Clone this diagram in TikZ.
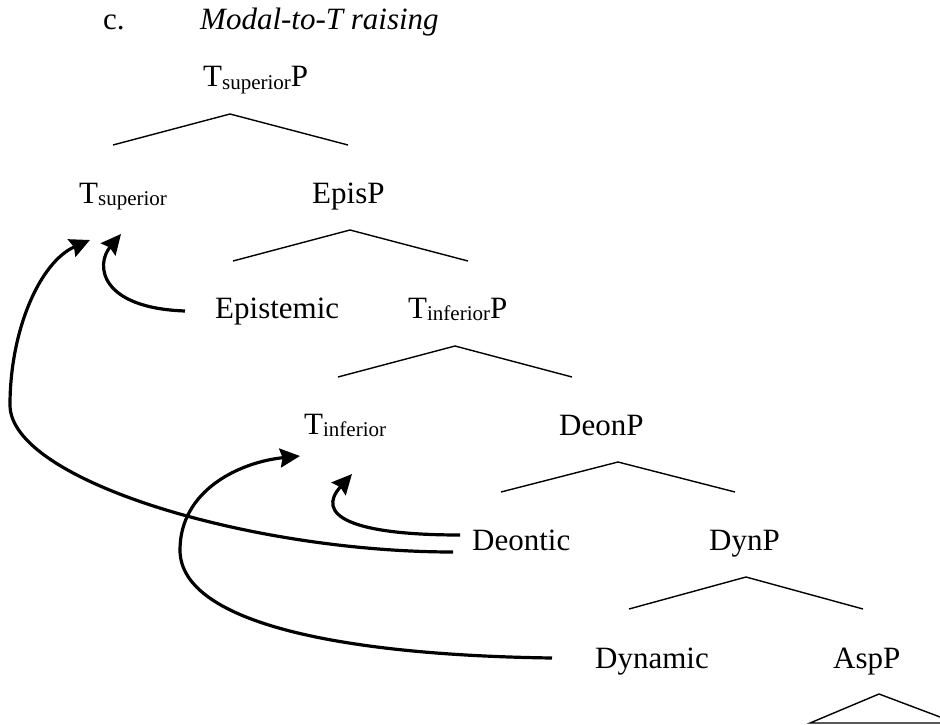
\documentclass[tikz,border=0pt]{standalone}
\usepackage{fontspec}
\setmainfont{Liberation Serif}
\usetikzlibrary{arrows.meta}
% lowered, smaller index text after a category label
\newcommand{\lowidx}[1]{\raisebox{-2pt}{\fontsize{21}{21}\selectfont #1}}
\begin{document}
\begin{tikzpicture}[x=1pt,y=-1pt,
  lbl/.style={anchor=base west, inner sep=0pt, font=\fontsize{31}{36}\selectfont},
  branch/.style={line width=1.4pt},
  move/.style={line width=3.2pt, -{Stealth[length=20pt,width=19pt,inset=2.5pt]}}]
\useasboundingbox (0,0) rectangle (940,725);

% heading
\node[lbl] (num) at (103,30) {c.};
\node[lbl, font=\fontsize{31}{36}\selectfont\itshape] (title) at (200,30) {Modal-to-T raising};

% labels of the tree
\node[lbl] (tsupP) at (203,87)  {T\lowidx{superior}P};
\node[lbl] (tsup)  at (79,203)  {T\lowidx{superior}};
\node[lbl] (episP) at (312,203) {EpisP};
\node[lbl] (epi)   at (215,318) {Epistemic};
\node[lbl] (tinfP) at (408,318) {T\lowidx{inferior}P};
\node[lbl] (tinf)  at (304,434) {T\lowidx{inferior}};
\node[lbl] (deonP) at (559,435) {DeonP};
\node[lbl] (deon)  at (472,550) {Deontic};
\node[lbl] (dynP)  at (709,550) {DynP};
\node[lbl] (dyn)   at (595,668) {Dynamic};
\node[lbl] (aspP)  at (833,668) {AspP};

% branches: apex, left foot, right foot
\coordinate (b1a) at (230,114); \coordinate (b1l) at (113,145); \coordinate (b1r) at (348,145);
\coordinate (b2a) at (350,230); \coordinate (b2l) at (233,261); \coordinate (b2r) at (468,261);
\coordinate (b3a) at (455,346); \coordinate (b3l) at (338,377); \coordinate (b3r) at (572,377);
\coordinate (b4a) at (618,462); \coordinate (b4l) at (501,492); \coordinate (b4r) at (735,492);
\coordinate (b5a) at (746,577); \coordinate (b5l) at (629,609); \coordinate (b5r) at (863,609);
\draw[branch] (b1l) -- (b1a) -- (b1r);
\draw[branch] (b2l) -- (b2a) -- (b2r);
\draw[branch] (b3l) -- (b3a) -- (b3r);
\draw[branch] (b4l) -- (b4a) -- (b4r);
\draw[branch] (b5l) -- (b5a) -- (b5r);

% triangle under AspP
\begin{scope}
\clip (0,0) rectangle (940,725);
\coordinate (t6a) at (879,694); \coordinate (t6l) at (810,723); \coordinate (t6r) at (956,723);
\draw[branch] (t6l) -- (t6a) -- (t6r) -- cycle;
\end{scope}

% movement arrows: start and landing points
\coordinate (epiS)  at (185,311);  \coordinate (tsupE1) at (121,234);
\coordinate (deonS1) at (453,552); \coordinate (tsupE2) at (90,240);
\coordinate (deonS2) at (460,535); \coordinate (tinfE1) at (352,474);
\coordinate (dynS)  at (552,658);  \coordinate (tinfE2) at (300,456);

\draw[move] (epiS) .. controls (100,308) and (95,265) .. (tsupE1);
\draw[move] (deonS1) .. controls (250,552) and (10,480) .. (10,405)
                     .. controls (10,330) and (40,262) .. (tsupE2);
\draw[move] (deonS2) .. controls (350,535) and (315,515) .. (tinfE1);
\draw[move] (dynS) .. controls (330,655) and (180,620) .. (180,550)
                   .. controls (180,490) and (240,462) .. (tinfE2);
\end{tikzpicture}
\end{document}
